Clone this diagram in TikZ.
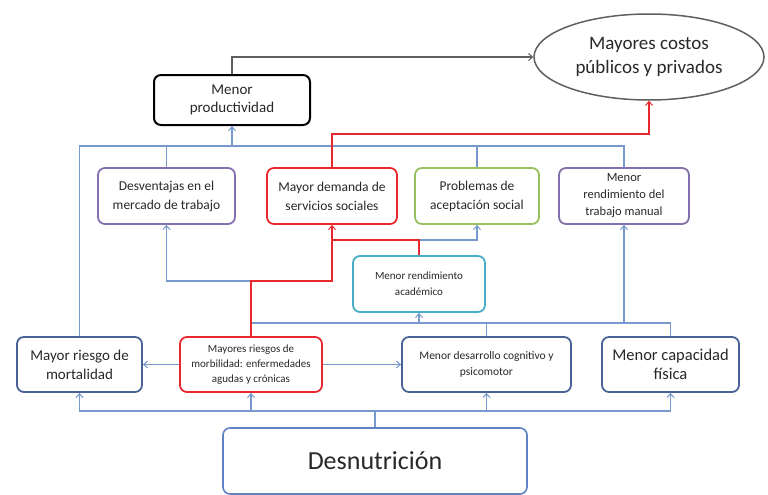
\documentclass[tikz,border=0pt]{standalone}
\usepackage{fontspec}
\setmainfont{Carlito}
\usetikzlibrary{arrows.meta,shapes.geometric}
\definecolor{lnblue}{RGB}{118,152,205}
\definecolor{dkblue}{RGB}{72,98,150}
\definecolor{mdblue}{RGB}{96,130,196}
\definecolor{purp}{RGB}{132,112,172}
\definecolor{rd}{RGB}{232,40,48}
\definecolor{grn}{RGB}{152,192,95}
\definecolor{teal}{RGB}{72,172,196}
\definecolor{txt}{RGB}{40,40,40}
\definecolor{ellc}{RGB}{95,95,95}
\tikzset{
  box/.style={draw, rounded corners=7pt, line width=1.8pt, align=center, inner sep=2pt, text=txt, fill=white},
  conn/.style={lnblue, line width=1.3pt},
  rconn/.style={rd, line width=1.3pt},
  tip/.style={-{Straight Barb[length=4pt,width=7pt,line width=1pt]}},
}
\begin{document}
\begin{tikzpicture}[x=1pt,y=-1pt]
\useasboundingbox (0,0) rectangle (768,495);
% nodes
\node[box, draw=black, line width=2pt, minimum width=156pt, minimum height=50pt, font=\fontsize{15}{18}\selectfont] (prod) at (232,100) {Menor\\productividad};
\node[draw=ellc, line width=1.5pt, ellipse, minimum width=230pt, minimum height=86pt, align=center, text=txt, font=\fontsize{19}{24}\selectfont, inner sep=0pt] (cost) at (649,57) {Mayores costos\\públicos y privados};
\node[box, draw=purp, minimum width=137pt, minimum height=56pt, font=\fontsize{13.5}{19}\selectfont] (desv) at (166.5,196) {Desventajas en el\\mercado de trabajo};
\node[box, draw=rd, minimum width=130pt, minimum height=56pt, font=\fontsize{13.5}{19}\selectfont] (dem) at (332,196) {Mayor demanda de\\servicios sociales};
\node[box, draw=grn, minimum width=124pt, minimum height=56pt, font=\fontsize{13.5}{19}\selectfont] (prob) at (477,196) {Problemas de\\aceptación social};
\node[box, draw=purp, minimum width=130pt, minimum height=56pt, font=\fontsize{12.5}{17}\selectfont] (man) at (624,196) {Menor\\rendimiento del\\trabajo manual};
\node[box, draw=teal, minimum width=132pt, minimum height=56pt, font=\fontsize{11}{16}\selectfont] (acad) at (419,284) {Menor rendimiento\\académico};
\node[box, draw=dkblue, minimum width=125pt, minimum height=55pt, font=\fontsize{15}{19}\selectfont] (mort) at (79.5,364.5) {Mayor riesgo de\\mortalidad};
\node[box, draw=rd, minimum width=142pt, minimum height=55pt, font=\fontsize{11}{15}\selectfont] (morb) at (251,364.5) {Mayores riesgos de\\morbilidad: enfermedades\\agudas y crónicas};
\node[box, draw=dkblue, minimum width=169pt, minimum height=55pt, font=\fontsize{11.5}{16}\selectfont] (cog) at (486.5,364.5) {Menor desarrollo cognitivo y\\psicomotor};
\node[box, draw=dkblue, minimum width=137pt, minimum height=55pt, font=\fontsize{16.5}{19}\selectfont] (cap) at (670.5,364.5) {Menor capacidad\\física};
\node[box, draw=mdblue, line width=1.6pt, minimum width=304pt, minimum height=66pt, font=\fontsize{26}{30}\selectfont] (desn) at (375,461) {Desnutrición};
% coordinates
\coordinate (bb) at (375,411);
\coordinate (tb) at (232,146);
\coordinate (rt) at (649,134);
\coordinate (rm) at (251,281);
\coordinate (ra) at (419,240);
\coordinate (mb) at (419,323);
% gray top connector
\draw[ellc, line width=1.3pt, tip] (prod.north) |- (cost.west);
% bottom bus
\draw[conn] (desn.north) -- (bb);
\draw[conn, tip] (bb) -| (mort.south);
\draw[conn, tip] (bb) -| (morb.south);
\draw[conn, tip] (bb) -| (cog.south);
\draw[conn, tip] (bb) -| (cap.south);
% horizontal arrows from morbilidad
\draw[conn, tip] (morb.west) -- (mort.east);
\draw[conn, tip] (morb.east) -- (cog.west);
% top bus
\draw[conn, tip] (mort.north) |- (tb) -- (prod.south);
\draw[conn] (desv.north) |- (tb);
\draw[conn] (prob.north) |- (tb);
\draw[conn] (man.north) |- (tb);
% middle bus
\draw[conn, tip] (cog.north) |- (mb) -- (acad.south);
\draw[conn] (cap.north) |- (mb);
\draw[conn] (morb.north |- mb) -- (mb);
\draw[conn, tip] (man.south |- mb) -- (man.south);
% morbilidad to desventajas
\draw[conn, tip] (rm) -| (desv.south);
% academico to problemas
\draw[conn, tip] (ra) -| (prob.south);
% red connectors
\draw[rconn, tip] (dem.north) |- (rt) -- (cost.south);
\draw[rconn, tip] (morb.north) -- (rm) -| (dem.south);
\draw[rconn] (acad.north) -- (ra) -- (ra -| dem.south);
\end{tikzpicture}
\end{document}
